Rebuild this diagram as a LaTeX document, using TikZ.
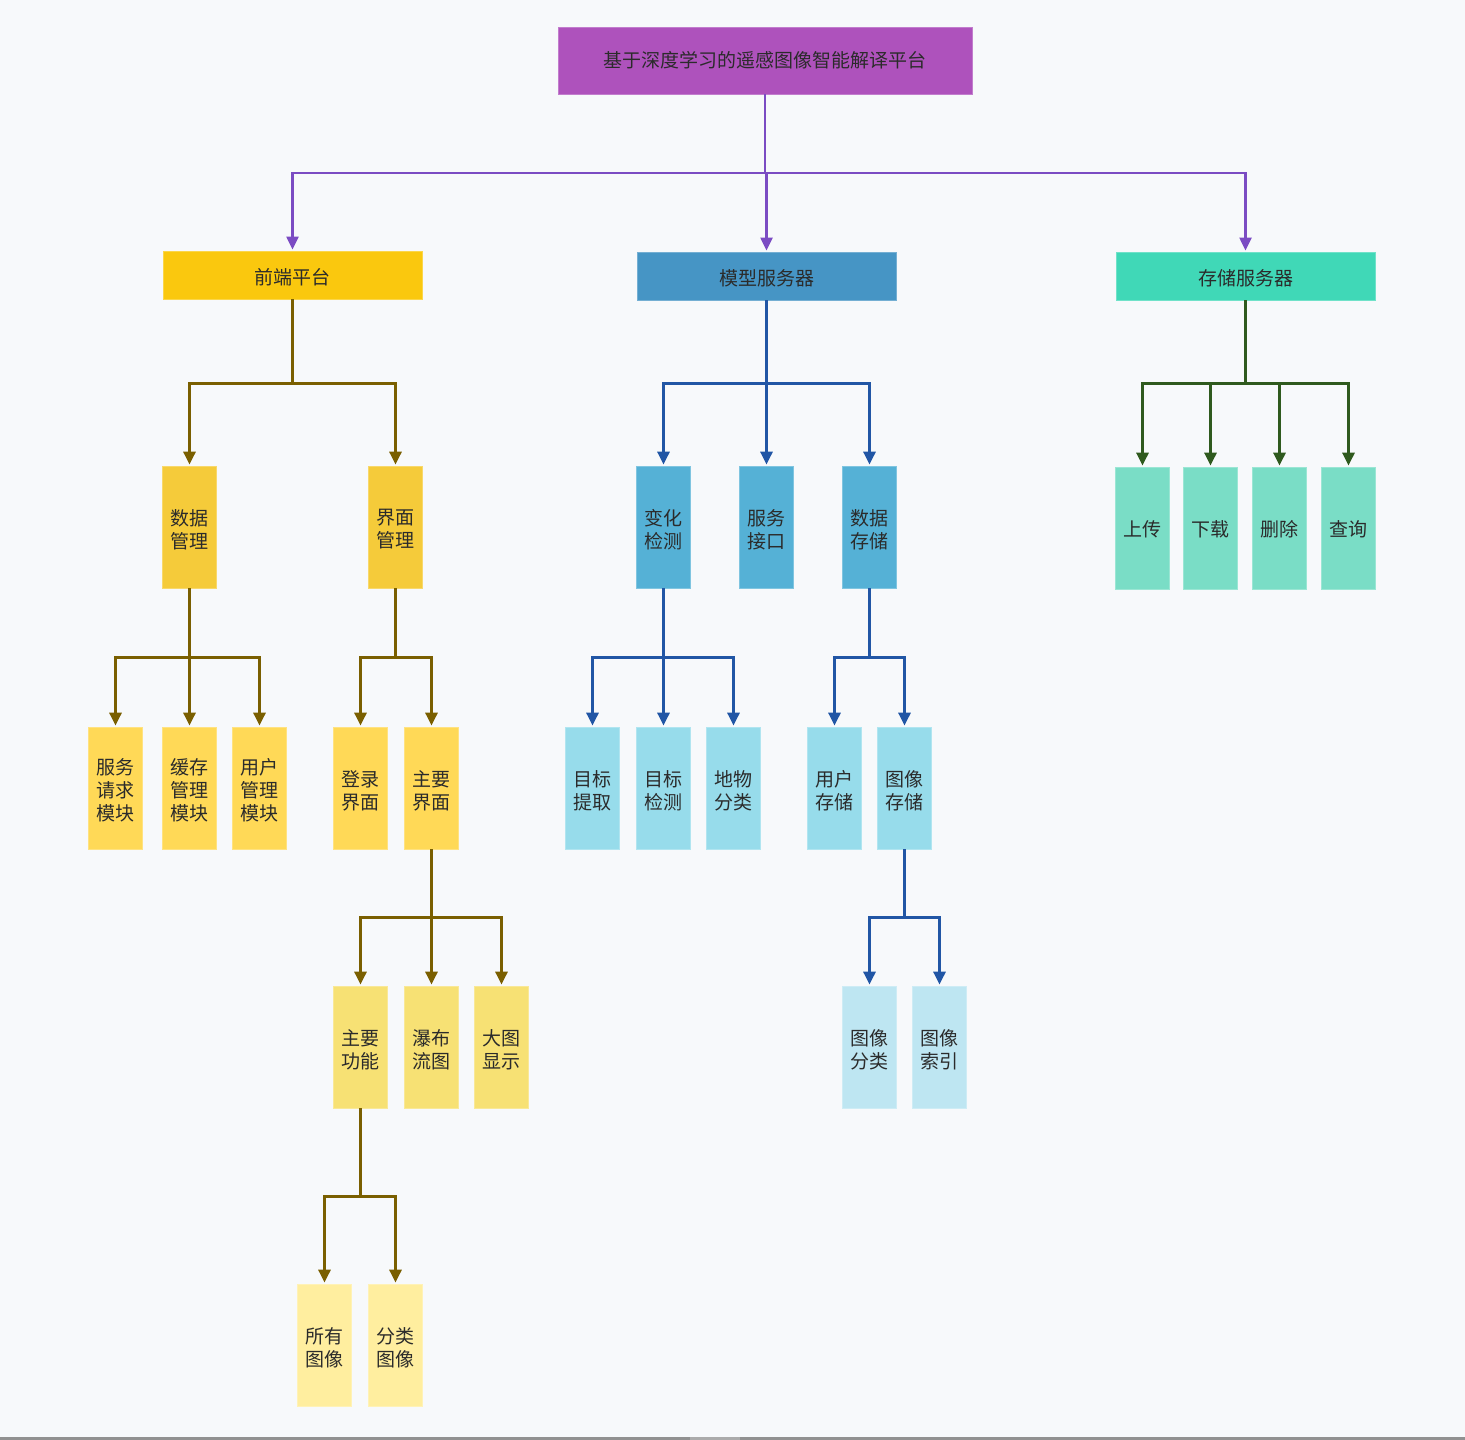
\documentclass[tikz,border=0pt]{standalone}
\usepackage{fontspec}
\newfontfamily\cjk{Noto Sans CJK SC}
\usetikzlibrary{arrows.meta}

\definecolor{pagebg}{HTML}{F7F9FB}
\definecolor{txt}{HTML}{2B2B2B}
\definecolor{rootc}{HTML}{AE52BC}
\definecolor{linep}{HTML}{7B4CC3}
\definecolor{yA}{HTML}{FAC80E}
\definecolor{yB}{HTML}{F5CB3A}
\definecolor{yC}{HTML}{FFD957}
\definecolor{yD}{HTML}{F7E174}
\definecolor{yE}{HTML}{FFEE9F}
\definecolor{liney}{HTML}{7A5F00}
\definecolor{bA}{HTML}{4695C5}
\definecolor{bB}{HTML}{55B1D6}
\definecolor{bC}{HTML}{97DCEB}
\definecolor{bD}{HTML}{BEE6F2}
\definecolor{lineb}{HTML}{2156A5}
\definecolor{gA}{HTML}{40D8B7}
\definecolor{gB}{HTML}{7ADDC6}
\definecolor{lineg}{HTML}{2F5A1E}

\tikzset{
  lbl/.style={inner sep=0pt, align=center, text=txt,
    font=\cjk\fontsize{19}{23}\selectfont},
  base/.style={rectangle, lbl, line width=0.8pt},
  % box caption, set a little below the box centre
  t/.style={label={[lbl, yshift=-2.5pt]center:#1}},
  t1/.style={label={[lbl, yshift=-1.5pt]center:#1}},
  wide/.style={base, minimum width=259pt, minimum height=48pt},
  tall/.style={base, minimum width=54pt, minimum height=122pt},
  colbox/.style={fill=#1, draw=#1!75!white},
  conn/.style={line width=3pt, color=#1, shorten >=1pt,
    -{Triangle[length=13pt,width=12pt]}},
  thinconn/.style={conn=#1, line width=2.2pt},
}

\begin{document}
\begin{tikzpicture}[x=1pt, y=-1pt]
  \useasboundingbox (0,0) rectangle (1465,1440);
  \fill[pagebg] (0,0) rectangle (1465,1440);
  % window scrollbar strip along the lower edge
  \fill[black!43] (0,1437) rectangle (1465,1440);
  \fill[black!33] (690,1437) rectangle (740,1440);

  % ---- root ----
  \node[base, colbox=rootc, minimum width=414pt, minimum height=67pt] (root) at (765,60.5) {基于深度学习的遥感图像智能解译平台};

  % ---- level 1 ----
  \node[wide, colbox=yA, t=前端平台]   (front) at (292.5,275) {};
  \node[wide, colbox=bA, t=模型服务器] (model) at (766.5,276) {};
  \node[wide, colbox=gA, t=存储服务器] (store) at (1245.5,276) {};

  % ---- front-end branch ----
  \node[tall, colbox=yB, t={数据\\管理}] (data) at (189.5,527) {};
  \node[tall, colbox=yB, t={界面\\管理}] (ui)   at (395.5,527) {};

  \node[tall, colbox=yC, t={服务\\请求\\模块}] (req)   at (115.5,788) {};
  \node[tall, colbox=yC, t={缓存\\管理\\模块}] (cache) at (189.5,788) {};
  \node[tall, colbox=yC, t={用户\\管理\\模块}] (usr)   at (259.5,788) {};
  \node[tall, colbox=yC, t={登录\\界面}]       (login) at (360.5,788) {};
  \node[tall, colbox=yC, t={主要\\界面}]       (main)  at (431.5,788) {};

  \node[tall, colbox=yD, t={主要\\功能}] (func) at (360.5,1047) {};
  \node[tall, colbox=yD, t={瀑布\\流图}] (fall) at (431.5,1047) {};
  \node[tall, colbox=yD, t={大图\\显示}] (big)  at (501.5,1047) {};

  \node[tall, colbox=yE, t={所有\\图像}] (all) at (324.5,1345) {};
  \node[tall, colbox=yE, t={分类\\图像}] (cls) at (395.5,1345) {};

  % ---- model-server branch ----
  \node[tall, colbox=bB, t={变化\\检测}] (chg)  at (663.5,527) {};
  \node[tall, colbox=bB, t={服务\\接口}] (api)  at (766.5,527) {};
  \node[tall, colbox=bB, t={数据\\存储}] (dsto) at (869.5,527) {};

  \node[tall, colbox=bC, t={目标\\提取}] (ext)  at (592.5,788) {};
  \node[tall, colbox=bC, t={目标\\检测}] (det)  at (663.5,788) {};
  \node[tall, colbox=bC, t={地物\\分类}] (land) at (733.5,788) {};
  \node[tall, colbox=bC, t={用户\\存储}] (ust)  at (834.5,788) {};
  \node[tall, colbox=bC, t={图像\\存储}] (ist)  at (904.5,788) {};

  \node[tall, colbox=bD, t={图像\\分类}] (icls) at (869.5,1047) {};
  \node[tall, colbox=bD, t={图像\\索引}] (iidx) at (939.5,1047) {};

  % ---- storage-server branch ----
  \node[tall, colbox=gB, t1=上传] (up)   at (1142.5,528) {};
  \node[tall, colbox=gB, t1=下载] (down) at (1210.5,528) {};
  \node[tall, colbox=gB, t1=删除] (del)  at (1279.5,528) {};
  \node[tall, colbox=gB, t1=查询] (qry)  at (1348.5,528) {};

  % ---- bus junctions ----
  \coordinate (jr)  at (765,173);
  \coordinate (jf)  at (292.5,383);
  \coordinate (jm)  at (766.5,383);
  \coordinate (js)  at (1245.5,383);
  \coordinate (jd)  at (189.5,657);
  \coordinate (ju)  at (395.5,657);
  \coordinate (jc)  at (663.5,657);
  \coordinate (jds) at (869.5,657);
  \coordinate (jmn) at (431.5,917);
  \coordinate (jis) at (904.5,917);
  \coordinate (jfn) at (360.5,1196);

  % ---- connectors ----
  \foreach \c in {front,model,store}
    \draw[thinconn=linep] (root.south) -- (jr) -| (\c.north);

  \foreach \c in {data,ui}
    \draw[conn=liney] (front.south) -- (jf) -| (\c.north);
  \foreach \c in {req,cache,usr}
    \draw[conn=liney] (data.south) -- (jd) -| (\c.north);
  \foreach \c in {login,main}
    \draw[conn=liney] (ui.south) -- (ju) -| (\c.north);
  \foreach \c in {func,fall,big}
    \draw[conn=liney] (main.south) -- (jmn) -| (\c.north);
  \foreach \c in {all,cls}
    \draw[conn=liney] (func.south) -- (jfn) -| (\c.north);

  \foreach \c in {chg,api,dsto}
    \draw[conn=lineb] (model.south) -- (jm) -| (\c.north);
  \foreach \c in {ext,det,land}
    \draw[conn=lineb] (chg.south) -- (jc) -| (\c.north);
  \foreach \c in {ust,ist}
    \draw[conn=lineb] (dsto.south) -- (jds) -| (\c.north);
  \foreach \c in {icls,iidx}
    \draw[conn=lineb] (ist.south) -- (jis) -| (\c.north);

  \foreach \c in {up,down,del,qry}
    \draw[conn=lineg] (store.south) -- (js) -| (\c.north);
\end{tikzpicture}
\end{document}
